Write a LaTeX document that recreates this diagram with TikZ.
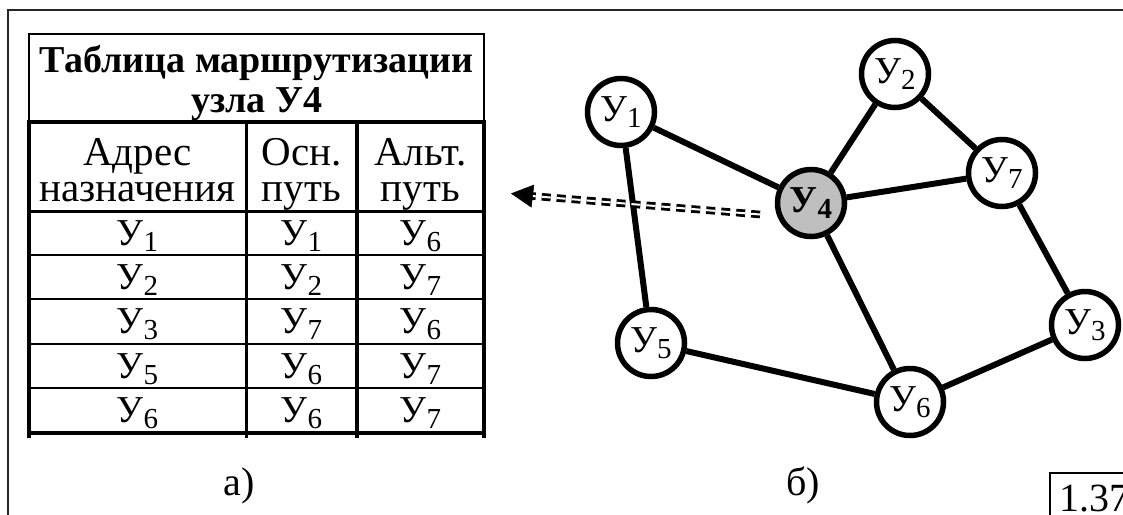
\documentclass[tikz,border=0pt]{standalone}
\usepackage{fontspec}
\setmainfont{Liberation Serif}
\usetikzlibrary{arrows.meta}
\newcommand\Ysub[1]{У\raisebox{-6pt}{\fontsize{29}{29}\selectfont #1}}
\begin{document}
\begin{tikzpicture}[x=1pt,y=-1pt,
  gnode/.style={circle,draw,line width=5.5pt,minimum size=67pt,inner sep=0pt,fill=white,
    font=\fontsize{38}{38}\selectfont},
  hnode/.style={gnode,fill=black!25,font=\fontsize{38}{38}\selectfont\bfseries},
  link/.style={line width=6pt},
  cell/.style={anchor=base,inner sep=0pt,font=\fontsize{38}{38}\selectfont},
  headtxt/.style={anchor=base,inner sep=0pt,font=\fontsize{41}{41}\selectfont},
  titletxt/.style={anchor=base,inner sep=0pt,font=\fontsize{38}{38}\selectfont\bfseries},
  captxt/.style={anchor=base,inner sep=0pt,font=\fontsize{40}{40}\selectfont},
  thinrule/.style={line width=2pt},
  thickrule/.style={line width=4.5pt},
  midrule/.style={line width=3.5pt},
  dbl/.style={double,double distance=2pt,line width=2.8pt,dash pattern=on 9pt off 6pt}
]
\useasboundingbox (0,0) rectangle (1123,514);
% outer frame
\draw[line width=2pt,black!85] (8,530) -- (8,10) -- (1140,10);
% table title box
\draw[thinrule] (29,122) -- (29,34) -- (484,34) -- (484,122);
\node[titletxt] (t1) at (256.5,72) {Таблица маршрутизации};
\node[titletxt] (t2) at (256.5,112) {узла У4};
% table grid
\draw[thickrule] (27,122) -- (486,122);
\draw[line width=3pt] (29,211) -- (484,211);
\foreach \yy in {255,299,344,388} \draw[line width=2.5pt] (29,\yy) -- (484,\yy);
\draw[thickrule] (29,433) -- (484,433);
\draw[thickrule] (29,122) -- (29,438);
\draw[thickrule] (484,122) -- (484,438);
\draw[midrule] (246.5,122) -- (246.5,438);
\draw[midrule] (357,122) -- (357,438);
% header
\node[headtxt] (h11) at (137.5,165) {Адрес};
\node[headtxt] (h12) at (137.5,201) {назначения};
\node[headtxt] (h21) at (301.5,165) {Осн.};
\node[headtxt] (h22) at (301.5,201) {путь};
\node[headtxt] (h31) at (420.5,165) {Альт.};
\node[headtxt] (h32) at (420.5,201) {путь};
% data
\node[cell] (a1) at (137.5,245) {\Ysub{1}};
\node[cell] (b1) at (301.5,245) {\Ysub{1}};
\node[cell] (c1) at (420.5,245) {\Ysub{6}};
\node[cell] (a2) at (137.5,289) {\Ysub{2}};
\node[cell] (b2) at (301.5,289) {\Ysub{2}};
\node[cell] (c2) at (420.5,289) {\Ysub{7}};
\node[cell] (a3) at (137.5,333) {\Ysub{3}};
\node[cell] (b3) at (301.5,333) {\Ysub{7}};
\node[cell] (c3) at (420.5,333) {\Ysub{6}};
\node[cell] (a4) at (137.5,378) {\Ysub{5}};
\node[cell] (b4) at (301.5,378) {\Ysub{6}};
\node[cell] (c4) at (420.5,378) {\Ysub{7}};
\node[cell] (a5) at (137.5,422) {\Ysub{6}};
\node[cell] (b5) at (301.5,422) {\Ysub{6}};
\node[cell] (c5) at (420.5,422) {\Ysub{7}};
% captions
\node[captxt] (capa) at (239,495) {а)};
\node[captxt] (capb) at (803,495) {б)};
\draw[line width=1.5pt] (1050,530) -- (1050,473) -- (1140,473);
\node[captxt,anchor=base west] (num) at (1059,511) {1.37};
% graph nodes
\node[gnode] (y1) at (621,112) {\Ysub{1}};
\node[gnode] (y2) at (895,74) {\Ysub{2}};
\node[gnode] (y7) at (1002,173) {\Ysub{7}};
\node[hnode] (y4) at (811,203) {У\raisebox{-6pt}{\fontsize{29}{29}\selectfont\bfseries 4}};
\node[gnode] (y5) at (651,343) {\Ysub{5}};
\node[gnode] (y6) at (910,402) {\Ysub{6}};
\node[gnode] (y3) at (1085,325) {\Ysub{3}};
% links
\draw[link] (y1) -- (y4);
\draw[link] (y1) -- (y5);
\draw[link] (y4) -- (y2);
\draw[link] (y4) -- (y7);
\draw[link] (y2) -- (y7);
\draw[link] (y4) -- (y6);
\draw[link] (y7) -- (y3);
\draw[link] (y5) -- (y6);
\draw[link] (y6) -- (y3);
% dashed double arrow
\coordinate (ds) at (760,214.5);
\coordinate (de) at (532,196);
\coordinate (tip) at (511,193.5);
\draw[dbl] (ds) -- (de);
\draw[line width=0.5pt,-{Triangle[length=22pt,width=23pt]}] (de) -- (tip);
\end{tikzpicture}
\end{document}
